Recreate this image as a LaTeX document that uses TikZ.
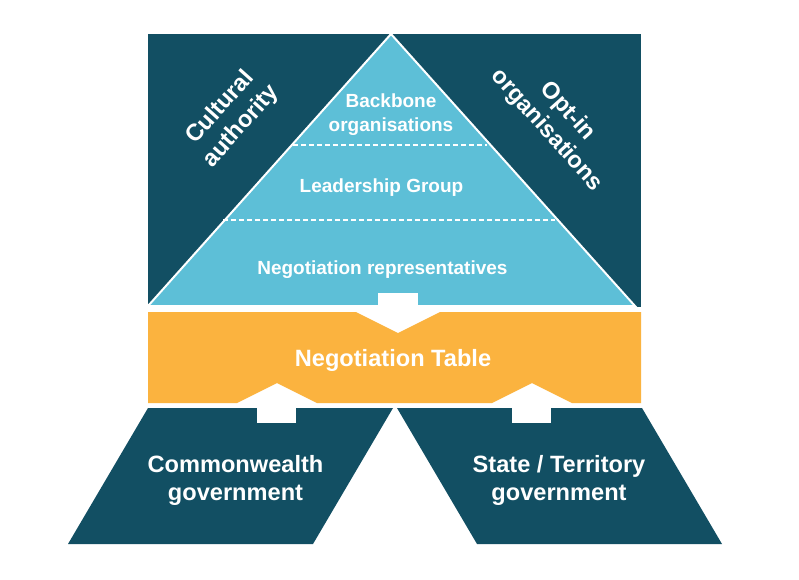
\documentclass[tikz,border=0pt]{standalone}
\usepackage{fontspec}
\setmainfont{Liberation Sans}
\definecolor{darkteal}{HTML}{124F63}
\definecolor{lightblue}{HTML}{5DBFD7}
\definecolor{orng}{HTML}{FBB33F}
\begin{document}
\begin{tikzpicture}[x=1pt,y=-1pt,
 lbl/.style={text=white,font=\bfseries\fontsize{19}{24}\selectfont,align=center,inner sep=0pt},
 big/.style={text=white,font=\bfseries\fontsize{23.6}{28}\selectfont,align=center,inner sep=0pt},
 dashline/.style={white,line width=1.3pt,dash pattern=on 5pt off 3pt},
 whitebar/.style={fill=white}]
\useasboundingbox[fill=white] (0,0) rectangle (799,579);
% upper block
\fill[darkteal] (148,34) rectangle (641,307);
\filldraw[fill=lightblue,draw=white,line width=2pt] (391,34) -- (635,306) -- (148,306) -- cycle;
\draw[dashline] (293,145) -- (487,145);
\draw[dashline] (223,220) -- (555,220);
% negotiation table
\fill[orng] (148,312) -- (356,312) -- (398,333) -- (440,312) -- (641,312) -- (641,403)
  -- (572,403) -- (532,383) -- (492,403) -- (317,403) -- (277,383) -- (237,403) -- (148,403) -- cycle;
% governments
\fill[darkteal] (148,408) -- (393,408) -- (313,544) -- (68,544) -- cycle;
\fill[darkteal] (397,408) -- (642,408) -- (722,544) -- (477,544) -- cycle;
% arrow stems
\fill[whitebar] (378,293) rectangle (418,312);
\fill[whitebar] (257,403) rectangle (296,423);
\fill[whitebar] (512,403) rectangle (551,423);
% texts
\node[lbl] (backbone) at (391,115) {Backbone\\organisations};
\node[lbl,anchor=base] (leader) at (381.5,192) {Leadership Group};
\node[lbl,anchor=base] (negrep) at (382.4,274) {Negotiation representatives};
\node[big,anchor=base] (table) at (393,366) {Negotiation Table};
\node[big] (cwlth) at (235.5,480.5) {Commonwealth\\government};
\node[big] (state) at (559,480.5) {State / Territory\\government};
\node[big,rotate=48.2] (cultural) at (231,117) {Cultural\\authority};
\node[big,rotate=-48.2] (optin) at (557,121) {Opt-in\\organisations};
\end{tikzpicture}
\end{document}
